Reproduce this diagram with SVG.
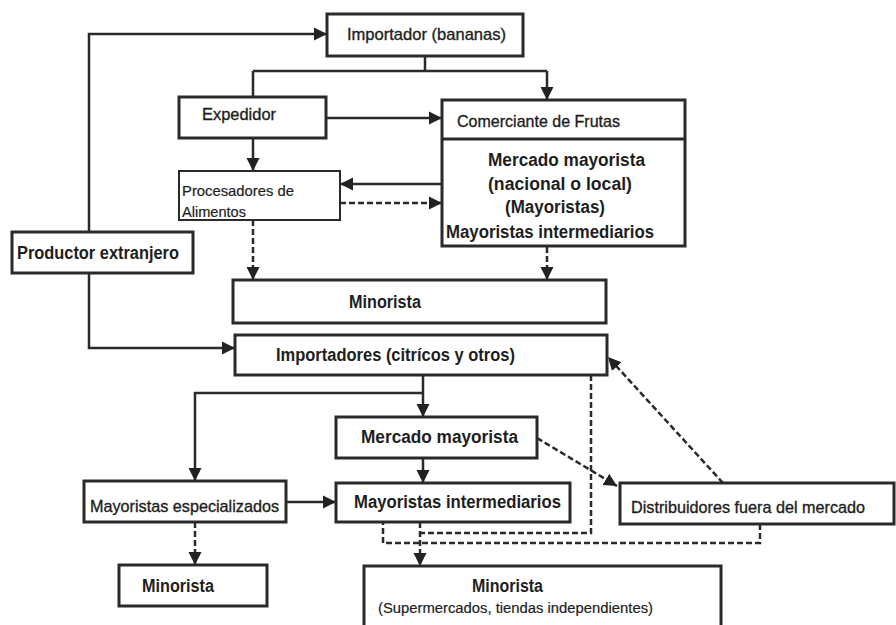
<svg xmlns="http://www.w3.org/2000/svg" width="896" height="625" viewBox="0 0 896 625">
<defs>
<marker id="ah" markerUnits="userSpaceOnUse" markerWidth="15" markerHeight="15" refX="13" refY="7.5" orient="auto">
<path d="M0,1 L13,7.5 L0,14 Z" fill="#222"/>
</marker>
<style>
.box{fill:#fff;stroke:#2a2a2a;stroke-width:3}
.thin{fill:#fff;stroke:#2a2a2a;stroke-width:2}
.t{font-family:"Liberation Sans",Arial,sans-serif;fill:#1e1e1e;font-size:17px;stroke:#1e1e1e;stroke-width:0.35}
.b{font-weight:bold;font-size:17.5px;stroke-width:0}
.c{stroke:#2a2a2a;stroke-width:2.5;fill:none}
.d{stroke-dasharray:6 3}
.a{marker-end:url(#ah)}
</style>
</defs>
<rect width="896" height="625" fill="#fff"/>
<g id="connectors">
<path class="c a" d="M89,232 V34 H327"/>
<path class="c a" d="M89,273 V348 H235"/>
<path class="c" d="M425,56 V71 M253,71 H547 M253,71 V97"/>
<path class="c a" d="M547,71 V100"/>
<path class="c a" d="M326,118 H442"/>
<path class="c a" d="M253,138 V171"/>
<path class="c a" d="M442,184 H340"/>
<path class="c d a" d="M340,203 H442"/>
<path class="c d a" d="M253,220 V280"/>
<path class="c d a" d="M547,247 V280"/>
<path class="c a" d="M423,375 V417"/>
<path class="c a" d="M423,393 H195 V481"/>
<path class="c a" d="M423,458 V483"/>
<path class="c a" d="M286,502 H336"/>
<path class="c d a" d="M195,522 V565"/>
<path class="c d a" d="M537,438 L617,486"/>
<path class="c d a" d="M723,483 L608,357"/>
<path class="c d" d="M591,375 V533 H420"/>
<path class="c d a" d="M420,522 V566"/>
<path class="c d" d="M760,524 V543 H383 V522"/>
</g>
<g id="importador-bananas">
<rect class="box" x="327" y="14" width="196" height="42"/>
<text class="t" x="347" y="40" textLength="159" lengthAdjust="spacingAndGlyphs">Importador (bananas)</text>
</g>
<g id="productor">
<rect class="box" x="12" y="232" width="181" height="41"/>
<text class="t b" x="17" y="259" textLength="162" lengthAdjust="spacingAndGlyphs">Productor extranjero</text>
</g>
<g id="expedidor">
<rect class="box" x="179" y="97" width="147" height="41"/>
<text class="t" x="202" y="120" textLength="74" lengthAdjust="spacingAndGlyphs">Expedidor</text>
</g>
<g id="comerciante">
<rect class="box" x="442" y="100" width="243" height="146"/>
<line x1="442" y1="139" x2="685" y2="139" stroke="#2a2a2a" stroke-width="3"/>
<text class="t" x="457" y="127" textLength="163" lengthAdjust="spacingAndGlyphs">Comerciante de Frutas</text>
<text class="t b" x="488" y="166" textLength="157" lengthAdjust="spacingAndGlyphs">Mercado mayorista</text>
<text class="t b" x="488" y="190" textLength="144" lengthAdjust="spacingAndGlyphs">(nacional o local)</text>
<text class="t b" x="505" y="213" textLength="100" lengthAdjust="spacingAndGlyphs">(Mayoristas)</text>
<text class="t b" x="446" y="238" textLength="208" lengthAdjust="spacingAndGlyphs">Mayoristas intermediarios</text>
</g>
<g id="procesadores">
<rect class="thin" x="179" y="171" width="161" height="49"/>
<text class="t" x="182" y="196" style="font-size:14.5px;stroke-width:0.2" textLength="112" lengthAdjust="spacingAndGlyphs">Procesadores de</text>
<text class="t" x="182" y="217" style="font-size:14.5px;stroke-width:0.2" textLength="64" lengthAdjust="spacingAndGlyphs">Alimentos</text>
</g>
<g id="minorista-1">
<rect class="box" x="233" y="280" width="373" height="43"/>
<text class="t b" x="349" y="308" textLength="72" lengthAdjust="spacingAndGlyphs">Minorista</text>
</g>
<g id="importadores">
<rect class="box" x="235" y="335" width="372" height="40"/>
<text class="t b" x="276" y="361" textLength="239" lengthAdjust="spacingAndGlyphs">Importadores (citrícos y otros)</text>
</g>
<g id="mercado-mayorista">
<rect class="box" x="336" y="417" width="201" height="41"/>
<text class="t b" x="361" y="443" textLength="157" lengthAdjust="spacingAndGlyphs">Mercado mayorista</text>
</g>
<g id="mayoristas-intermediarios">
<rect class="box" x="336" y="483" width="234" height="39"/>
<text class="t b" x="354" y="508" textLength="207" lengthAdjust="spacingAndGlyphs">Mayoristas intermediarios</text>
</g>
<g id="mayoristas-especializados">
<rect class="box" x="84" y="481" width="202" height="41"/>
<text class="t" x="90" y="512" textLength="189" lengthAdjust="spacingAndGlyphs">Mayoristas especializados</text>
</g>
<g id="minorista-2">
<rect class="box" x="119" y="565" width="148" height="41"/>
<text class="t b" x="142" y="592" textLength="72" lengthAdjust="spacingAndGlyphs">Minorista</text>
</g>
<g id="distribuidores">
<rect class="box" x="620" y="483" width="274" height="41"/>
<text class="t" x="631" y="513" textLength="234" lengthAdjust="spacingAndGlyphs">Distribuidores fuera del mercado</text>
</g>
<g id="minorista-3">
<rect class="box" x="364" y="566" width="357" height="80"/>
<text class="t b" x="472" y="592" textLength="71" lengthAdjust="spacingAndGlyphs">Minorista</text>
<text class="t" x="378" y="613" style="font-size:14.5px;stroke-width:0.2" textLength="275" lengthAdjust="spacingAndGlyphs">(Supermercados, tiendas independientes)</text>
</g>
</svg>
